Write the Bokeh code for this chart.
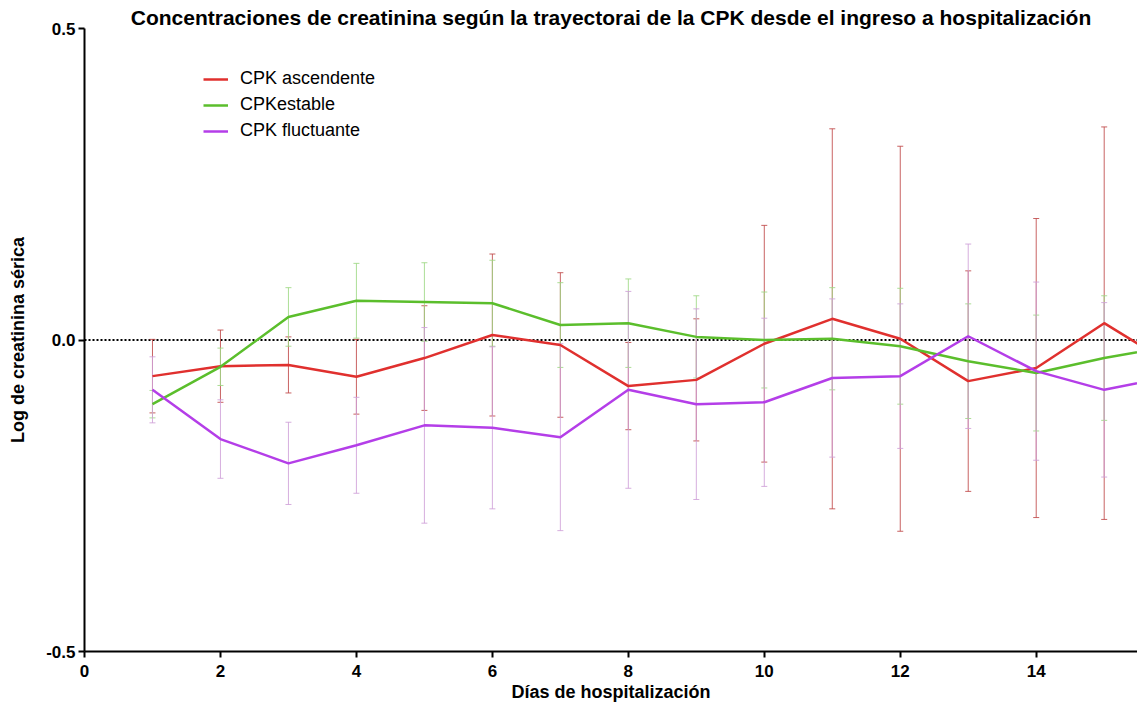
from bokeh.plotting import figure
from bokeh.models import (ColumnDataSource, Whisker, TeeHead, Span, Range1d,
                          FixedTicker, NumeralTickFormatter, Legend, LegendItem)
from bokeh.embed import file_html
from bokeh.resources import INLINE

# ---- data ----
days = [1, 2, 3, 4, 5, 6, 7, 8, 9, 10, 11, 12, 13, 14, 15, 16]
asc = [-0.058, -0.042, -0.040, -0.059, -0.029, 0.008, -0.008, -0.074, -0.064,
       -0.006, 0.034, 0.002, -0.066, -0.045, 0.027, -0.040]
asc_err = [0.059, 0.058, 0.045, 0.060, 0.084, 0.130, 0.116, 0.070, 0.098,
           0.190, 0.305, 0.309, 0.177, 0.240, 0.315, 0.300]
est = [-0.103, -0.043, 0.037, 0.063, 0.061, 0.059, 0.024, 0.027, 0.005,
       0.000, 0.002, -0.010, -0.034, -0.053, -0.029, -0.010]
est_err = [0.022, 0.030, 0.047, 0.060, 0.063, 0.069, 0.068, 0.071, 0.066,
           0.077, 0.082, 0.093, 0.092, 0.093, 0.100, 0.100]
fluc = [-0.080, -0.159, -0.198, -0.169, -0.137, -0.141, -0.156, -0.080, -0.103,
        -0.100, -0.061, -0.058, 0.006, -0.050, -0.080, -0.058]
fluc_err = [0.053, 0.063, 0.066, 0.077, 0.157, 0.130, 0.150, 0.158, 0.153,
            0.135, 0.127, 0.116, 0.148, 0.143, 0.140, 0.140]

names = ["CPK ascendente", "CPKestable", "CPK fluctuante"]
means = [asc, est, fluc]
errs = [asc_err, est_err, fluc_err]
line_colors = ["#E0302E", "#5BBE2C", "#B43EE8"]
bar_colors = ["#C04848", "#9ED884", "#CFA0D8"]

FONT = "Liberation Sans"

p = figure(width=1137, height=705, output_backend="svg", toolbar_location=None,
           x_range=Range1d(0, 15.49), y_range=Range1d(-0.5, 0.5),
           min_border_left=84, min_border_right=0, min_border_top=28,
           min_border_bottom=54)
p.outline_line_color = None
p.grid.visible = False

p.title.text = ("Concentraciones de creatinina según la trayectorai de la CPK "
                "desde el ingreso a hospitalización")
p.title.text_font = FONT
p.title.text_font_size = "21px"
p.title.text_font_style = "bold"
p.title.text_color = "black"
p.title.align = "center"
p.title.standoff = 0

p.add_layout(Span(location=0, dimension="width", line_color="black",
                  line_width=2, line_dash="2 2", level="underlay"))

renderers = []
for name, m, e, lc, bc in zip(names, means, errs, line_colors, bar_colors):
    src = ColumnDataSource(dict(
        x=days, y=m,
        upper=[a + b for a, b in zip(m, e)],
        lower=[a - b for a, b in zip(m, e)]))
    w = Whisker(base="x", upper="upper", lower="lower", source=src,
                line_color=bc, line_width=1, line_alpha=0.85, level="underlay",
                upper_head=TeeHead(size=6, line_color=bc, line_width=1, line_alpha=0.85),
                lower_head=TeeHead(size=6, line_color=bc, line_width=1, line_alpha=0.85))
    p.add_layout(w)
    r = p.line("x", "y", source=src, line_color=lc, line_width=2.5)
    renderers.append((name, r))

legend = Legend(items=[LegendItem(label=n, renderers=[r]) for n, r in renderers],
                location=(119, 510), background_fill_alpha=0, border_line_color=None,
                label_text_font=FONT, label_text_font_size="18px",
                label_text_color="black",
                glyph_width=25, label_standoff=12, spacing=5, padding=10,
                label_height=20, glyph_height=20)
p.add_layout(legend)

for ax in (p.xaxis, p.yaxis):
    ax.axis_line_width = 2
    ax.axis_line_color = "black"
    ax.major_tick_line_width = 2
    ax.major_tick_out = 6
    ax.major_tick_in = 0
    ax.minor_tick_line_color = None
    ax.major_label_text_font = FONT
    ax.major_label_text_font_style = "bold"
    ax.major_label_text_font_size = "17px"
    ax.major_label_text_color = "black"
    ax.axis_label_text_font = FONT
    ax.axis_label_text_font_style = "bold"
    ax.axis_label_text_font_size = "18px"
    ax.axis_label_text_color = "black"

p.xaxis.ticker = FixedTicker(ticks=[0, 2, 4, 6, 8, 10, 12, 14, 16])
p.yaxis.ticker = FixedTicker(ticks=[-0.5, 0, 0.5])
p.yaxis.formatter = NumeralTickFormatter(format="0.0")
p.xaxis.axis_label = "Días de hospitalización"
p.yaxis.axis_label = "Log de creatinina sérica"
p.xaxis.major_label_standoff = 7
p.xaxis.axis_label_standoff = 2
p.yaxis.major_label_standoff = 3
p.yaxis.axis_label_standoff = 15

open("out.html", "w").write(file_html(p, INLINE))
